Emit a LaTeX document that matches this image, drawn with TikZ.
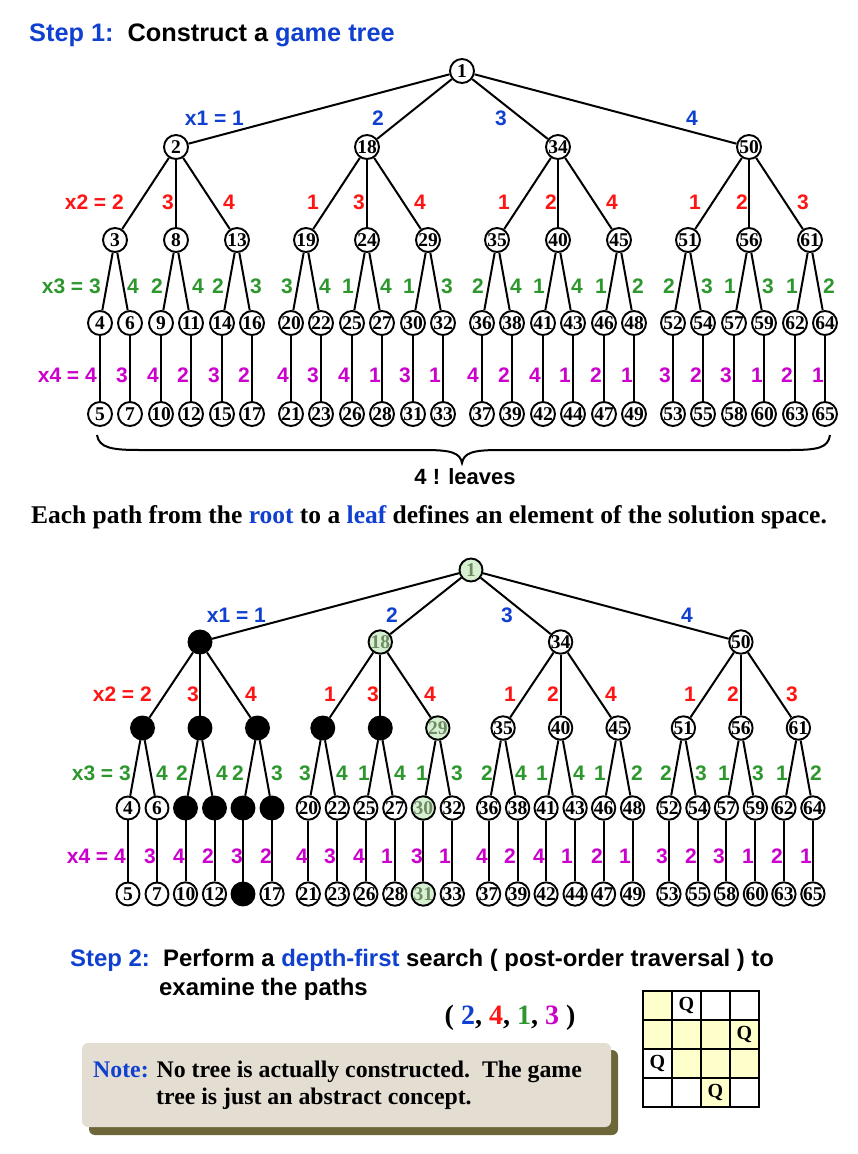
\documentclass[tikz,border=0pt]{standalone}
\usepackage{fontspec}
\setmainfont{Liberation Serif}
\setsansfont{Liberation Sans}
\definecolor{cblue}{RGB}{16,64,208}
\definecolor{cred}{RGB}{255,20,20}
\definecolor{cgreen}{RGB}{45,150,45}
\definecolor{cmag}{RGB}{204,0,204}
\definecolor{gnfill}{RGB}{215,240,210}
\definecolor{gntext}{RGB}{110,140,100}
\definecolor{notefill}{RGB}{228,222,210}
\definecolor{shadowc}{RGB}{108,102,56}
\definecolor{yel}{RGB}{255,255,204}
\newcommand\nfont{\bfseries\fontsize{19.5}{19.5}\selectfont}
\def\nsz{24pt}
\tikzset{
  edge/.style={line width=2pt},
  plainnode/.style={circle,draw,line width=1.9pt,fill=white,minimum size=\nsz,inner sep=0pt,font=\nfont},
  blacknode/.style={plainnode,fill=black},
  greennode/.style={plainnode,fill=gnfill,text=gntext},
  lab/.style={font=\sffamily\bfseries\fontsize{21}{21}\selectfont,inner sep=0pt},
  labA/.style={lab,text=cblue},
  labB/.style={lab,text=cred},
  labC/.style={lab,text=cgreen},
  labD/.style={lab,text=cmag},
}
\foreach \n in {2,3,8,13,19,24,9,11,14,16,15}{\expandafter\gdef\csname blkb\n\endcsname{}}
\foreach \n in {1,18,29,30,31}{\expandafter\gdef\csname grnb\n\endcsname{}}
\newcommand\tnode[4]{%
  \ifcsname blk#1#2\endcsname \node[blacknode] (#1#2) at (#3,#4) {};%
  \else\ifcsname grn#1#2\endcsname \node[greennode] (#1#2) at (#3,#4) {#2};%
  \else \node[plainnode] (#1#2) at (#3,#4) {#2};\fi\fi}
\newcommand\buildtree[1]{%
  \tnode{#1}{1}{\rX}{\rY}
  \foreach \i in {0,...,3}{
    \pgfmathtruncatemacro\NumA{2+16*\i}
    \pgfmathsetmacro\XA{\xA+\dA*\i}
    \tnode{#1}{\NumA}{\XA}{\yA}
    \draw[edge] (#11) -- (#1\NumA);
    \foreach \j in {0,1,2}{
      \pgfmathtruncatemacro\NumB{\NumA+1+5*\j}
      \pgfmathsetmacro\XB{\XA+\dB*(\j-1)}
      \tnode{#1}{\NumB}{\XB}{\yB}
      \draw[edge] (#1\NumA) -- (#1\NumB);
      \foreach \k in {0,1}{
        \pgfmathtruncatemacro\NumC{\NumB+1+2*\k}
        \pgfmathsetmacro\XC{\XB+\dC*(2*\k-1)}
        \tnode{#1}{\NumC}{\XC}{\yC}
        \draw[edge] (#1\NumB) -- (#1\NumC);
        \pgfmathtruncatemacro\NumD{\NumC+1}
        \tnode{#1}{\NumD}{\XC}{\yD}
        \draw[edge] (#1\NumC) -- (#1\NumD);
      }
    }
  }
}
\begin{document}
\begin{tikzpicture}[x=1pt,y=-1pt]
\useasboundingbox (0,0) rectangle (858,1154);
% heading
\node[anchor=west,inner sep=0pt,font=\sffamily\bfseries\fontsize{25.3}{25.3}\selectfont] (step1) at (29,35)
  {\textcolor{cblue}{Step 1:}\ \ Construct a \textcolor{cblue}{game tree}};
% ---------- tree 1
\def\rX{462}\def\rY{71}\def\xA{176}\def\dA{191}\def\yA{147}
\def\dB{61}\def\yB{240}\def\dC{15}\def\yC{323}\def\yD{414}
\def\nsz{24pt}
\buildtree{a}
% labels tree 1
\node[labA,anchor=east] (al1a) at (244,118) {x1 = 1};
\foreach \x/\t [count=\c] in {378/2,501/3,692/4} \node[labA] (al1\c) at (\x,118) {\t};
\node[labB,anchor=east] (al2a) at (124,202) {x2 = 2};
\foreach \x/\t [count=\c] in {168/3,229/4,313/1,359/3,420/4,504/1,551/2,612/4,695/1,742/2,803/3}
  \node[labB] (al2\c) at (\x,202) {\t};
\node[labC,anchor=east] (al3a) at (101,286) {x3 = 3};
\foreach \x/\t [count=\c] in {133/4,157/2,198/4,218/2,256/3,287/3,325/4,348/1,386/4,409/1,447/3,478/2,516/4,539/1,577/4,601/1,638/2,669/2,707/3,730/1,768/3,792/1,829/2}
  \node[labC] (al3\c) at (\x,286) {\t};
\node[labD,anchor=east] (al4a) at (97,375) {x4 = 4};
\foreach \x/\t [count=\c] in {122/3,153/4,183/2,214/3,244/2,283/4,313/3,344/4,375/1,405/3,435/1,473/4,504/2,535/4,565/1,596/2,627/1,665/3,696/2,726/3,757/1,787/2,818/1}
  \node[labD] (al4\c) at (\x,375) {\t};
% brace
\draw[line width=2pt] (97,435) .. controls (99,448) and (112,450) .. (140,450) -- (425,450)
  .. controls (452,450) and (460,453) .. (462,463) .. controls (464,453) and (472,450) .. (499,450)
  -- (790,450) .. controls (818,450) and (828,448) .. (830,435);
\node[inner sep=0pt,font=\sffamily\bfseries\fontsize{22}{22}\selectfont] (leaves) at (465,477) {4 ! leaves};
\node[inner sep=0pt,font=\bfseries\fontsize{25.5}{25.5}\selectfont] (each) at (429,517)
  {Each path from the \textcolor{cblue}{root} to a \textcolor{cblue}{leaf} defines an element of the solution space.};
% ---------- tree 2
\def\rX{471}\def\rY{570}\def\xA{200}\def\dA{180.3}\def\yA{642}
\def\dB{57.5}\def\yB{728}\def\dC{14.5}\def\yC{808}\def\yD{894}
\def\nsz{23pt}
\buildtree{b}
\node[labA,anchor=east] (bl1a) at (266,615) {x1 = 1};
\foreach \x/\t [count=\c] in {392/2,507/3,687/4} \node[labA] (bl1\c) at (\x,615) {\t};
\node[labB,anchor=east] (bl2a) at (152,694) {x2 = 2};
\foreach \x/\t [count=\c] in {193/3,251/4,330/1,373/3,430/4,510/1,553/2,611/4,690/1,733/2,792/3}
  \node[labB] (bl2\c) at (\x,694) {\t};
\node[labC,anchor=east] (bl3a) at (131,773) {x3 = 3};
\foreach \x/\t [count=\c] in {162/4,182/2,222/4,238/2,277/3,305/3,342/4,364/1,400/4,422/1,457/3,487/2,521/4,542/1,579/4,600/1,637/2,666/2,701/3,724/1,758/3,782/1,816/2}
  \node[labC] (bl3\c) at (\x,773) {\t};
\node[labD,anchor=east] (bl4a) at (126,856) {x4 = 4};
\foreach \x/\t [count=\c] in {150/3,179/4,208/2,237/3,266/2,302/4,330/3,359/4,387/1,417/3,445/1,482/4,510/2,539/4,567/1,597/2,625/1,662/3,691/2,719/3,748/1,777/2,806/1}
  \node[labD] (bl4\c) at (\x,856) {\t};
% ---------- step 2
\node[anchor=west,inner sep=0pt,font=\sffamily\bfseries\fontsize{23.9}{23.9}\selectfont] (step2) at (70,960)
  {\textcolor{cblue}{Step 2:}\ \ Perform a \textcolor{cblue}{depth-first} search ( post-order traversal ) to};
\node[anchor=west,inner sep=0pt,font=\sffamily\bfseries\fontsize{23.9}{23.9}\selectfont] (step2b) at (159,989)
  {examine the paths};
\node[inner sep=0pt,font=\bfseries\fontsize{28}{28}\selectfont] (tuple) at (510,1018)
  {( \textcolor{cblue}{2}, \textcolor{cred}{4}, \textcolor{cgreen}{1}, \textcolor{cmag}{3} )};
% note box
\fill[shadowc,rounded corners=6pt] (89,1050) rectangle (618,1135);
\fill[notefill,rounded corners=6pt] (82,1043) rectangle (611,1127);
\node[anchor=west,inner sep=0pt,font=\bfseries\fontsize{23.8}{23.8}\selectfont] (notea) at (93,1072)
  {\textcolor{cblue}{Note:} No tree is actually constructed.\ \ The game};
\node[anchor=west,inner sep=0pt,font=\bfseries\fontsize{23.8}{23.8}\selectfont] (noteb) at (156,1099)
  {tree is just an abstract concept.};
% board
\foreach \r/\c in {1/1,2/1,2/2,2/3,2/4,3/2,3/3,3/4,4/3}
  \fill[yel] ({643+29*(\c-1)},{991+29*(\r-1)}) rectangle ({643+29*\c},{991+29*\r});
\foreach \v in {0,...,4}{
  \draw[line width=2pt] ({643+29*\v},991) -- ({643+29*\v},1107);
  \draw[line width=2pt] (643,{991+29*\v}) -- (759,{991+29*\v});
}
\draw[line width=2pt] (643,991) rectangle (759,1107);
\foreach \r/\c [count=\q] in {1/2,2/4,3/1,4/3}
  \node[inner sep=0pt,font=\bfseries\fontsize{20}{20}\selectfont] (queen\q) at ({643+29*\c-14.5},{991+29*\r-14.5}) {Q};
\end{tikzpicture}
\end{document}
